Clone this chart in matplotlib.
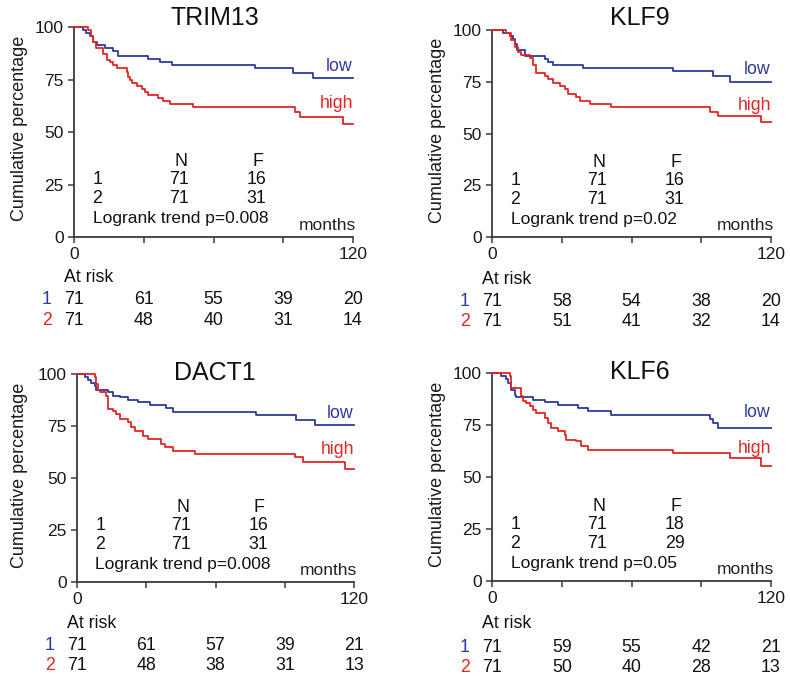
import matplotlib
matplotlib.use('Agg')
import matplotlib.pyplot as plt
from matplotlib import transforms

plt.rcParams['font.family'] = ['Liberation Sans', 'DejaVu Sans']

BLUE = '#2e3a9c'
RED = '#e52421'
AXC = '#3a3a3a'

# ---------------- data ----------------
genes = ['TRIM13', 'KLF9', 'DACT1', 'KLF6']

trim13_low_t = [0, 4.0, 5.2, 6.9, 8.3, 9.7, 13.3, 16.9, 19.1, 32.0, 37.0, 42.0, 77.9, 94.4, 103.0, 120]
trim13_low_s = [100, 98.6, 97.2, 95.8, 93.0, 91.5, 90.1, 88.7, 86.2, 84.9, 83.3, 81.9, 80.5, 78.1, 75.7, 75.7]
trim13_high_t = [0, 6.2, 7.2, 8.3, 9.5, 12.6, 14.1, 15.5, 16.9, 18.4, 22.7, 23.4, 24.1, 24.8, 27.0, 29.1,
                 30.5, 32.0, 36.3, 38.4, 41.3, 51.3, 95.1, 97.2, 115.9, 120]
trim13_high_s = [100, 98.6, 95.8, 93.0, 90.1, 87.3, 84.5, 83.1, 81.7, 80.3, 78.6, 76.0, 74.6, 73.2, 71.8, 70.4,
                 69.0, 67.6, 66.2, 64.8, 63.4, 61.9, 59.5, 57.1, 53.8, 53.8]

klf9_low_t = [0, 4.7, 7.6, 9.0, 10.0, 10.9, 14.1, 22.7, 24.1, 26.2, 39.1, 77.9, 95.1, 102.2, 120]
klf9_low_s = [100, 98.6, 97.2, 95.8, 93.0, 90.4, 87.3, 85.9, 84.5, 83.1, 81.7, 80.1, 77.7, 75.0, 75.0]
klf9_high_t = [0, 6.2, 8.3, 9.7, 11.2, 12.6, 16.2, 17.6, 19.1, 22.7, 24.1, 26.2, 29.1, 31.3, 32.7, 36.3,
               37.7, 42.0, 51.3, 93.6, 97.2, 115.9, 120]
klf9_high_s = [100, 98.6, 95.2, 92.0, 89.6, 88.0, 86.5, 83.3, 79.3, 77.7, 76.1, 74.5, 72.9, 71.3, 68.9, 67.4,
               65.8, 64.2, 62.6, 60.2, 58.6, 55.4, 55.4]

dact1_low_t = [0, 3.3, 4.8, 6.2, 7.7, 8.4, 13.4, 15.6, 18.5, 22.1, 26.4, 31.5, 38.7, 41.6, 77.7, 95.0, 103.0, 120]
dact1_low_s = [100, 98.6, 97.2, 95.8, 94.4, 92.5, 91.2, 89.6, 88.8, 87.7, 86.4, 85.1, 83.5, 81.9, 80.3, 78.0, 75.5, 75.5]
dact1_high_t = [0, 7.7, 8.4, 9.1, 9.8, 12.7, 13.4, 15.6, 17.0, 18.5, 22.1, 23.5, 25.0, 28.6, 30.8, 36.5,
                38.0, 41.6, 51.0, 94.3, 97.9, 116.0, 120]
dact1_high_s = [100, 98.6, 95.2, 92.5, 91.2, 89.6, 83.2, 82.4, 80.8, 78.4, 76.8, 74.4, 72.8, 70.4, 68.8, 66.3,
                64.7, 63.1, 61.5, 59.9, 57.5, 54.3, 54.3]

klf6_low_t = [0, 4.0, 6.2, 6.9, 8.3, 9.8, 10.5, 17.6, 22.7, 28.4, 37.0, 41.3, 51.3, 93.6, 95.1, 97.2, 120]
klf6_low_s = [100, 98.6, 97.2, 95.2, 92.0, 89.6, 88.3, 87.2, 85.9, 84.8, 83.2, 81.6, 80.0, 78.0, 76.0, 73.6, 73.6]
klf6_high_t = [0, 7.6, 8.3, 12.6, 13.3, 14.8, 16.2, 17.6, 19.1, 22.7, 24.1, 25.5, 28.4, 31.3, 32.0, 36.3,
               38.4, 41.3, 77.9, 102.2, 115.9, 120]
klf6_high_s = [100, 98.4, 92.8, 89.0, 86.4, 85.6, 84.0, 82.4, 80.8, 78.4, 76.0, 73.6, 72.0, 70.4, 68.0, 67.1,
               64.7, 63.1, 61.5, 59.1, 55.1, 55.1]

low_times = [trim13_low_t, klf9_low_t, dact1_low_t, klf6_low_t]
low_surv = [trim13_low_s, klf9_low_s, dact1_low_s, klf6_low_s]
high_times = [trim13_high_t, klf9_high_t, dact1_high_t, klf6_high_t]
high_surv = [trim13_high_s, klf9_high_s, dact1_high_s, klf6_high_s]

n_low = [71, 71, 71, 71]
n_high = [71, 71, 71, 71]
f_low = [16, 16, 16, 18]
f_high = [31, 31, 31, 29]
pvals = ['0.008', '0.02', '0.008', '0.05']

risk_times = [0, 30, 60, 90, 120]
risk_low = [[71, 61, 55, 39, 20], [71, 58, 54, 38, 20], [71, 61, 57, 39, 21], [71, 59, 55, 42, 21]]
risk_high = [[71, 48, 40, 31, 14], [71, 51, 41, 32, 14], [71, 48, 38, 31, 13], [71, 50, 40, 28, 13]]

# ---------------- layout ----------------
W, H = 790, 676
fig = plt.figure(figsize=(W / 100, H / 100), dpi=100)

# (left px, top px, right px, bottom px)
boxes = [(74, 27, 353, 237), (492, 30, 771, 237), (77, 374, 354, 582), (492, 373, 771, 581)]
title_y = [104.3, 106.0, 100.5, 100.3]
title_x = [60.6, 63.7, 59.8, 63.7]
ylab_px = [-46, -46, -49, -46]
risk_dy = [(-40, -62, -83), (-42, -64, -84), (-42, -64, -84), (-43, -66, -86)]

FS = 12.8
for i, g in enumerate(genes):
    l, t, r, b = boxes[i]
    ax = fig.add_axes([l / W, 1 - b / H, (r - l) / W, (b - t) / H])
    ax.set_xlim(0, 120)
    ax.set_ylim(0, 100)
    for s in ['top', 'right']:
        ax.spines[s].set_visible(False)
    for s in ['left', 'bottom']:
        ax.spines[s].set_color(AXC)
        ax.spines[s].set_linewidth(1.3)
    ax.set_xticks(risk_times)
    ax.set_xticklabels(['0', '', '', '', '120'])
    ax.set_yticks([0, 25, 50, 75, 100])
    ax.tick_params(axis='both', direction='out', length=4.5, width=1.1, color=AXC,
                   labelcolor='#1a1a1a')
    ax.tick_params(axis='x', labelsize=12.5, pad=3)
    ax.tick_params(axis='y', labelsize=12.5, pad=3)

    ax.step(low_times[i], low_surv[i], where='post', color=BLUE, lw=1.3, clip_on=False, zorder=3)
    ax.step(high_times[i], high_surv[i], where='post', color=RED, lw=1.3, clip_on=False, zorder=3)

    ax.set_ylabel('Cumulative percentage', fontsize=13, color='#1a1a1a')
    ax.yaxis.set_label_coords(ylab_px[i] / (r - l), 0.515)

    ax.text(title_x[i], title_y[i], g, ha='center', va='center', fontsize=18, color='#111111', clip_on=False)

    ax.text(119.6, 81, 'low', ha='right', va='center', fontsize=FS, color=BLUE)
    ax.text(120, 63.5, 'high', ha='right', va='center', fontsize=FS, color=RED)

    ax.text(46, 36, 'N', ha='center', va='center', fontsize=FS, color='#111111')
    ax.text(79, 36, 'F', ha='center', va='center', fontsize=FS, color='#111111')
    ax.text(10, 27.2, '1', ha='center', va='center', fontsize=FS, color='#111111')
    ax.text(10, 18.1, '2', ha='center', va='center', fontsize=FS, color='#111111')
    ax.text(45, 27.2, str(n_low[i]), ha='center', va='center', fontsize=FS, color='#111111')
    ax.text(45, 18.1, str(n_high[i]), ha='center', va='center', fontsize=FS, color='#111111')
    ax.text(78.5, 27.2, str(f_low[i]), ha='center', va='center', fontsize=FS, color='#111111')
    ax.text(78.5, 18.1, str(f_high[i]), ha='center', va='center', fontsize=FS, color='#111111')
    ax.text(8.0, 8.6, 'Logrank trend p=' + pvals[i], ha='left', va='center', fontsize=12.5, color='#111111')
    ax.text(121.3, 5.5, 'months', ha='right', va='center', fontsize=12.5, color='#222222')

    tr = transforms.blended_transform_factory(ax.transData, ax.transAxes)
    d0, d1, d2 = risk_dy[i]
    ax.annotate('At risk', xy=(0, 0), xycoords=tr, xytext=(-10, d0), textcoords='offset pixels',
                ha='left', va='center', fontsize=FS, color='#111111', annotation_clip=False)
    ax.annotate('1', xy=(0, 0), xycoords=tr, xytext=(-27, d1), textcoords='offset pixels',
                ha='center', va='center', fontsize=FS, color=BLUE, annotation_clip=False)
    ax.annotate('2', xy=(0, 0), xycoords=tr, xytext=(-27, d2), textcoords='offset pixels',
                ha='center', va='center', fontsize=FS, color=RED, annotation_clip=False)
    for tt, v1, v2 in zip(risk_times, risk_low[i], risk_high[i]):
        ax.annotate(str(v1), xy=(tt, 0), xycoords=tr, xytext=(0, d1), textcoords='offset pixels',
                    ha='center', va='center', fontsize=FS, color='#111111', annotation_clip=False)
        ax.annotate(str(v2), xy=(tt, 0), xycoords=tr, xytext=(0, d2), textcoords='offset pixels',
                    ha='center', va='center', fontsize=FS, color='#111111', annotation_clip=False)

fig.savefig('out.png', dpi=100, facecolor='white')
